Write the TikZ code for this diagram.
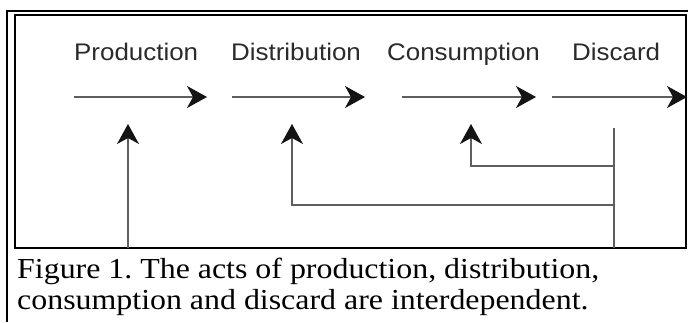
\documentclass[tikz,border=0pt]{standalone}
\usepackage{fontspec}
\setmainfont{Liberation Serif}
\newfontfamily\labelfont[FakeStretch=1.08]{Liberation Sans}
\newfontfamily\capfont[FakeStretch=1.1]{Liberation Serif}
\usetikzlibrary{arrows.meta}
\definecolor{linegray}{HTML}{5E5E5E}
\definecolor{textgray}{HTML}{2B2B2B}
\frenchspacing

\begin{document}
\begin{tikzpicture}[
      x=1pt, y=-1pt,
      lbl/.style={anchor=base west, inner sep=0pt, text=textgray,
                  font=\labelfont\fontsize{24}{28}\selectfont},
      captext/.style={anchor=base west, inner sep=0pt,
                  font=\capfont\fontsize{29}{31}\selectfont},
      arrow/.style={-{Stealth[length=20pt, width=22pt, inset=6pt, color=black!92]},
                    line width=1.4pt, linegray},
      fb/.style={line width=1.4pt, linegray},
      frame/.style={line width=2.2pt, black}
    ]
    \useasboundingbox (0,0) rectangle (688,322);
    \fill[white] (0,0) rectangle (688,322);

    % frames
    \draw[frame] (7,322) -- (7,11) -- (688,11);
    \draw[frame] (15,15) rectangle (686,248);

    % stage labels
    \node[lbl] (prod) at (74,60) {Production};
    \node[lbl] (dist) at (231,60) {Distribution};
    \node[lbl] (cons) at (387,60) {Consumption};
    \node[lbl] (disc) at (572,60) {Discard};

    % forward arrows
    \coordinate (a1) at (74,97);  \coordinate (b1) at (207,97);
    \coordinate (a2) at (232,97); \coordinate (b2) at (365,97);
    \coordinate (a3) at (402,97); \coordinate (b3) at (536,97);
    \coordinate (a4) at (552,97); \coordinate (b4) at (687,97);
    \draw[arrow] (a1) -- (b1);
    \draw[arrow] (a2) -- (b2);
    \draw[arrow] (a3) -- (b3);
    \draw[arrow] (a4) -- (b4);

    % feedback from discard
    \coordinate (dtop) at (614,128);
    \coordinate (dbot) at (614,248);
    \coordinate (j2) at (614,205);
    \coordinate (j3) at (614,166);
    \coordinate (j1) at (128,248);
    \coordinate (c1) at (128,124);
    \coordinate (c2) at (292,124);
    \coordinate (c3) at (471,124);
    \draw[fb] (dtop) -- (dbot);
    \draw[arrow] (j3) -| (c3);
    \draw[arrow] (j2) -| (c2);
    \draw[arrow] (j1) -- (c1);

    % caption
    \node[captext] (cap1) at (17,278) {Figure 1. The acts of production, distribution,};
    \node[captext] (cap2) at (17,309) {consumption and discard are interdependent.};
\end{tikzpicture}
\end{document}
